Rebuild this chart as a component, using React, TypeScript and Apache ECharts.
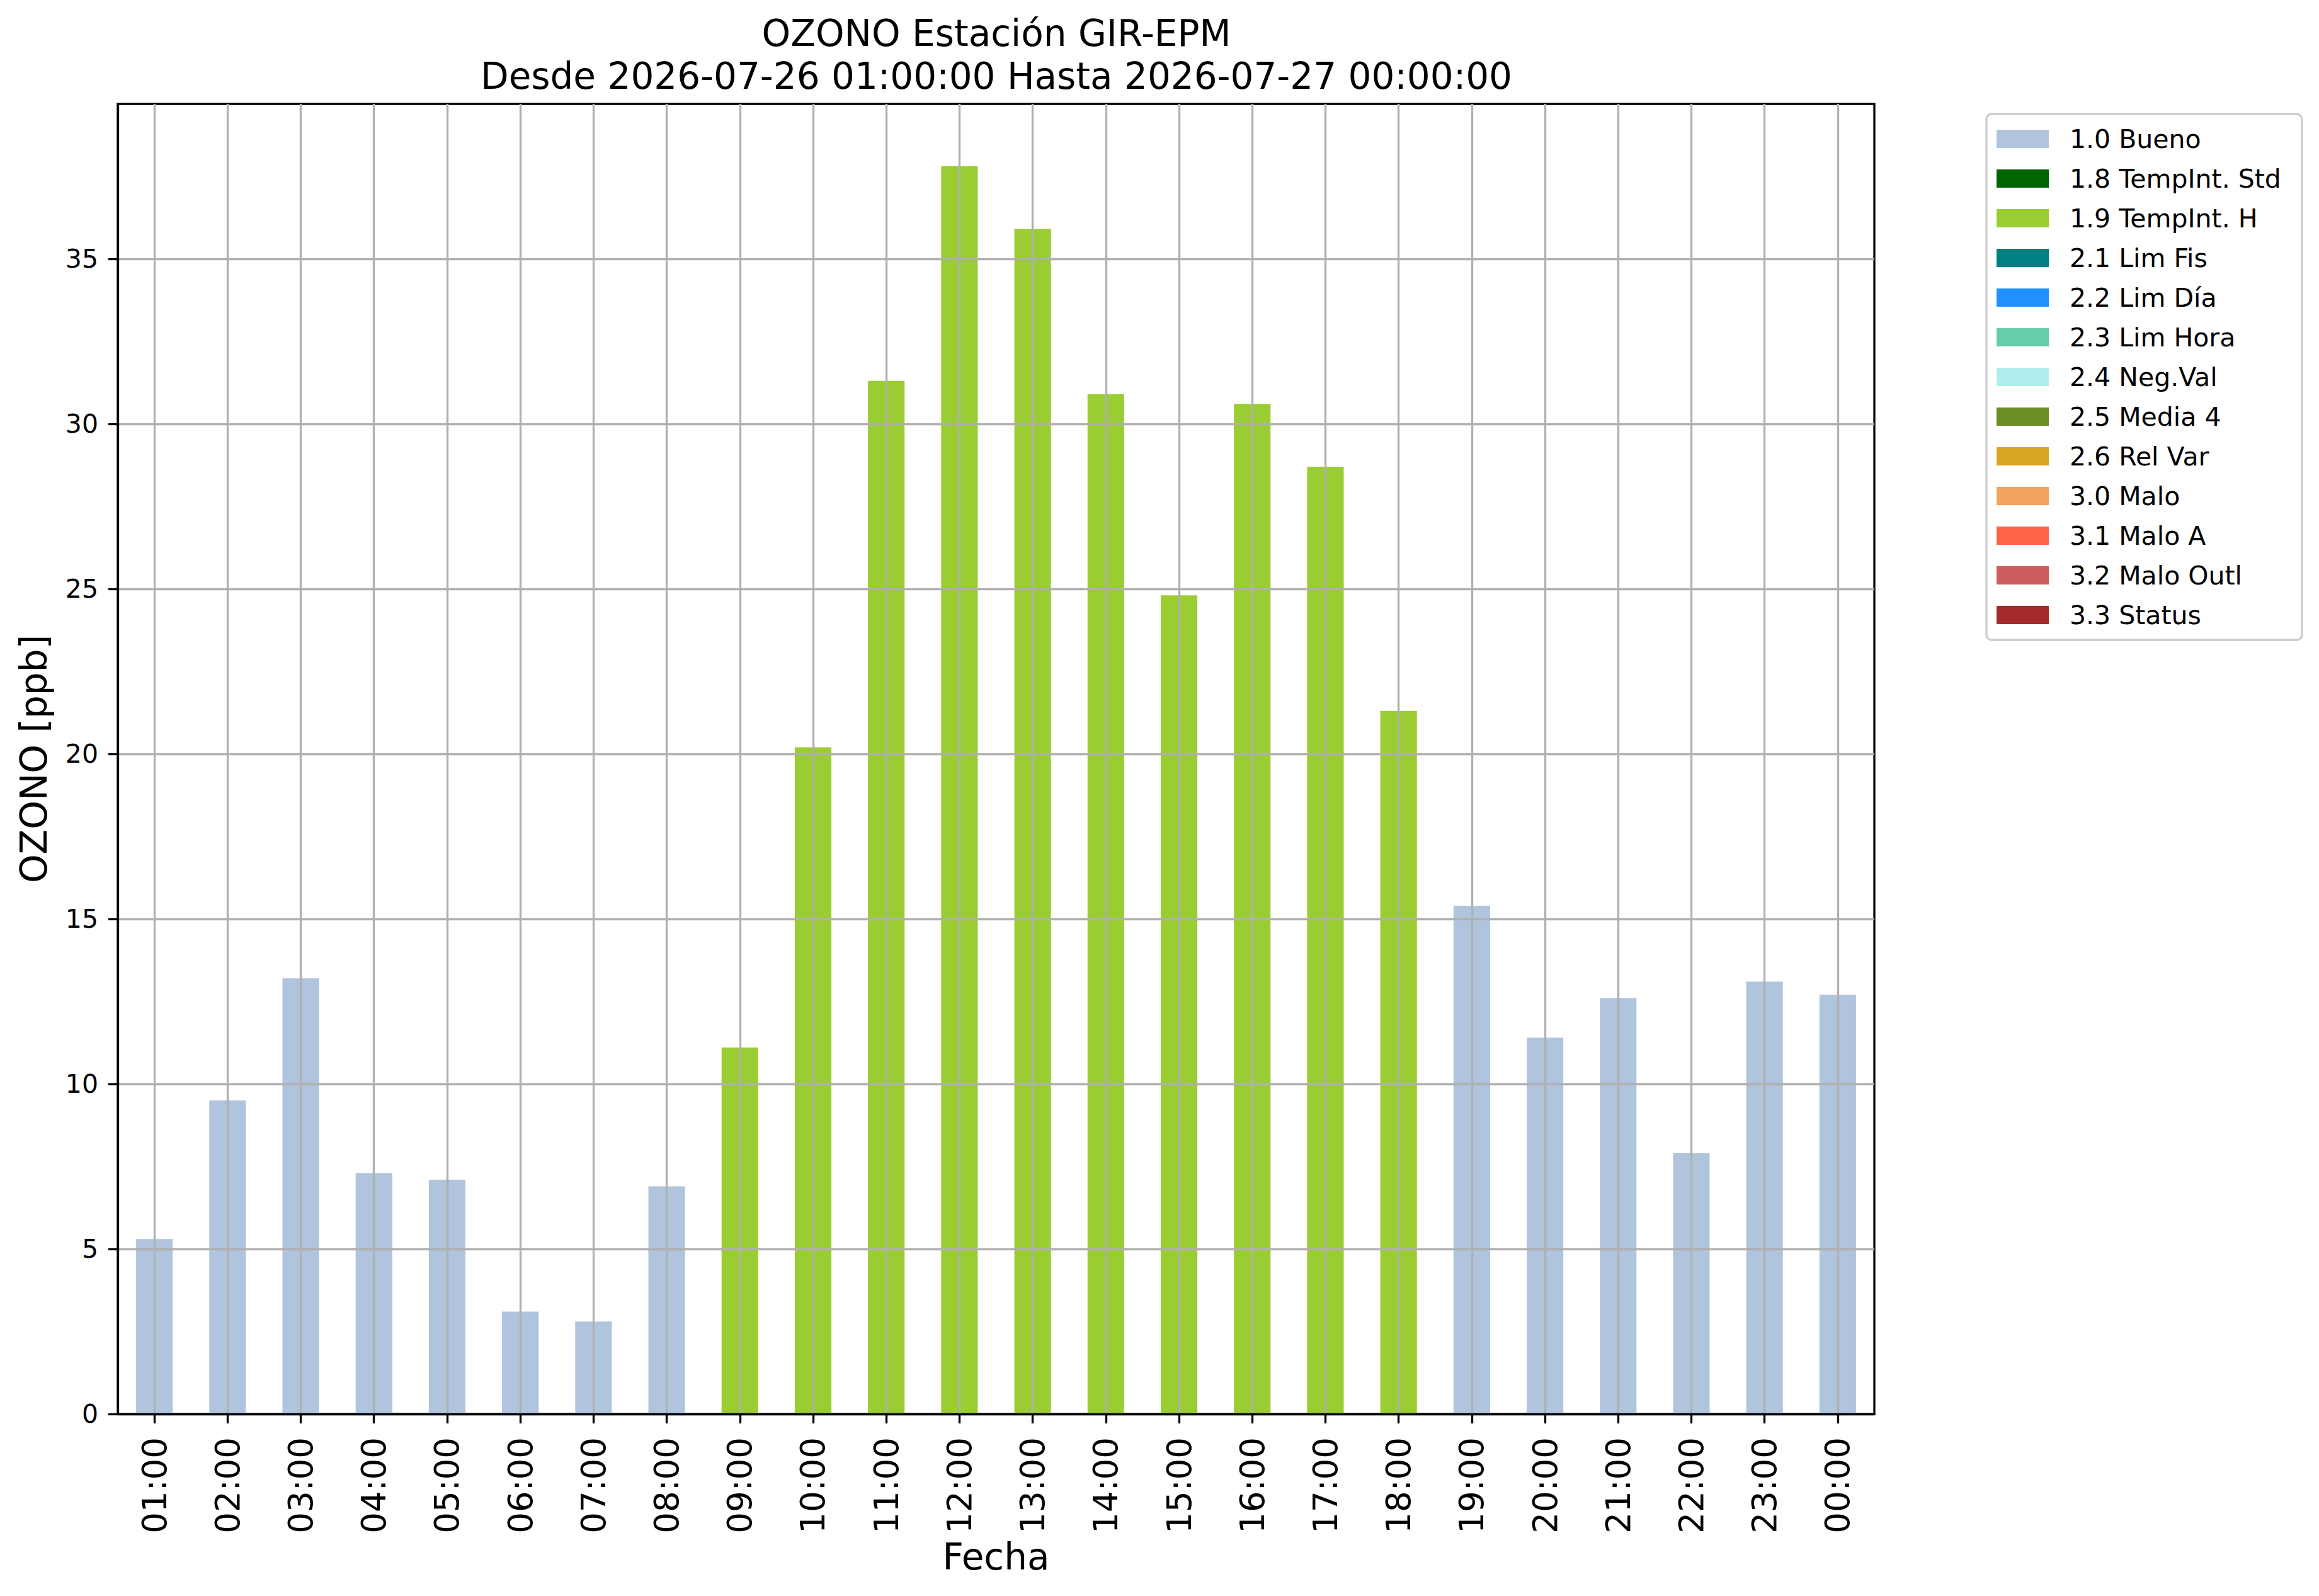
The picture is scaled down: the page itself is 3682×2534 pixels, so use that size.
import React, { useEffect, useRef } from "react";
import * as echarts from "echarts";

const hours = [
  "01:00", "02:00", "03:00", "04:00", "05:00", "06:00", "07:00", "08:00",
  "09:00", "10:00", "11:00", "12:00", "13:00", "14:00", "15:00", "16:00",
  "17:00", "18:00", "19:00", "20:00", "21:00", "22:00", "23:00", "00:00",
];

const ozone = [
  5.3, 9.5, 13.2, 7.3, 7.1, 3.1, 2.8, 6.9,
  11.1, 20.2, 31.3, 37.8, 35.9, 30.9, 24.8, 30.6,
  28.7, 21.3, 15.4, 11.4, 12.6, 7.9, 13.1, 12.7,
];

const hourFlags = [
  "1.0 Bueno", "1.0 Bueno", "1.0 Bueno", "1.0 Bueno", "1.0 Bueno", "1.0 Bueno", "1.0 Bueno", "1.0 Bueno",
  "1.9 TempInt. H", "1.9 TempInt. H", "1.9 TempInt. H", "1.9 TempInt. H", "1.9 TempInt. H", "1.9 TempInt. H", "1.9 TempInt. H", "1.9 TempInt. H",
  "1.9 TempInt. H", "1.9 TempInt. H", "1.0 Bueno", "1.0 Bueno", "1.0 Bueno", "1.0 Bueno", "1.0 Bueno", "1.0 Bueno",
];

const flagNames = [
  "1.0 Bueno", "1.8 TempInt. Std", "1.9 TempInt. H", "2.1 Lim Fis", "2.2 Lim Día",
  "2.3 Lim Hora", "2.4 Neg.Val", "2.5 Media 4", "2.6 Rel Var", "3.0 Malo",
  "3.1 Malo A", "3.2 Malo Outl", "3.3 Status",
];

const flagColors = [
  "#b0c4de", "#006400", "#9acd32", "#008080", "#1e90ff",
  "#66cdaa", "#afeeee", "#6b8e23", "#daa520", "#f4a460",
  "#ff6347", "#cd5c5c", "#a52a2a",
];

const yTicks = [0, 5, 10, 15, 20, 25, 30, 35];
const yMax = 39.69;

const titleText = "OZONO Estación GIR-EPM\nDesde 2026-07-26 01:00:00 Hasta 2026-07-27 00:00:00";
const yName = "OZONO [ppb]";
const xName = "Fecha";

const FONT = "DejaVu Sans";
const LW = 3.3;

export default function App() {
  const ref = useRef<HTMLDivElement>(null);

  useEffect(() => {
    document.body.style.margin = "0";
    const chart = echarts.init(ref.current!, null, { renderer: "svg" });

    const series = flagNames.map((name, i) => ({
      name,
      type: "bar",
      stack: "total",
      barWidth: "50%",
      itemStyle: { color: flagColors[i] },
      data: ozone.map((v, k) => (hourFlags[k] === name ? v : null)),
    }));

    chart.setOption({
      animation: false,
      backgroundColor: "#ffffff",
      textStyle: { fontFamily: FONT },
      grid: {
        left: 187,
        right: 3682 - 2976,
        top: 165,
        bottom: 2534 - 2245,
        show: true,
        borderColor: "#000",
        borderWidth: LW,
        backgroundColor: "transparent",
        containLabel: false,
      },
      graphic: [
        {
          type: "text",
          x: 1582,
          y: 19,
          style: {
            text: titleText,
            fontSize: 58,
            fontFamily: FONT,
            lineHeight: 68,
            fill: "#000",
            align: "center",
            verticalAlign: "top",
          },
        },
      ],
      legend: {
        orient: "vertical",
        left: 3154,
        top: 181,
        icon: "rect",
        itemWidth: 83,
        itemHeight: 29,
        itemGap: 22,
        padding: [19, 33, 19, 16],
        backgroundColor: "#ffffff",
        borderColor: "#cccccc",
        borderWidth: LW,
        borderRadius: 8,
        textStyle: {
          fontSize: 41,
          fontFamily: FONT,
          color: "#000",
          padding: [0, 0, 0, 28],
        },
        data: flagNames,
      },
      xAxis: {
        type: "category",
        data: hours,
        z: 5,
        name: xName,
        nameLocation: "middle",
        nameGap: 198,
        nameTextStyle: { fontSize: 58, fontFamily: FONT, color: "#000", lineHeight: 58 },
        axisLine: { show: true, lineStyle: { color: "#000", width: LW } },
        axisTick: { show: true, alignWithLabel: true, length: 15, lineStyle: { color: "#000", width: LW } },
        axisLabel: {
          rotate: 90,
          interval: 0,
          margin: 37,
          fontSize: 53,
          fontFamily: FONT,
          color: "#000",
        },
        splitLine: { show: true, alignWithLabel: true, lineStyle: { color: "#b0b0b0", width: LW } },
      },
      yAxis: {
        type: "value",
        min: 0,
        max: yMax,
        interval: 5,
        z: 5,
        name: yName,
        nameLocation: "middle",
        nameGap: 104,
        nameTextStyle: { fontSize: 58, fontFamily: FONT, color: "#000", lineHeight: 58 },
        axisLine: { show: true, lineStyle: { color: "#000", width: LW } },
        axisTick: { show: true, length: 15, customValues: yTicks, lineStyle: { color: "#000", width: LW } },
        axisLabel: {
          customValues: yTicks,
          margin: 31,
          fontSize: 41,
          fontFamily: FONT,
          color: "#000",
        },
        splitLine: { show: true, lineStyle: { color: "#b0b0b0", width: LW } },
      },
      series,
    });

    return () => chart.dispose();
  }, []);

  return (
    <div
      ref={ref}
      style={{ position: "absolute", left: 0, top: 0, width: 3682, height: 2534 }}
    />
  );
}
